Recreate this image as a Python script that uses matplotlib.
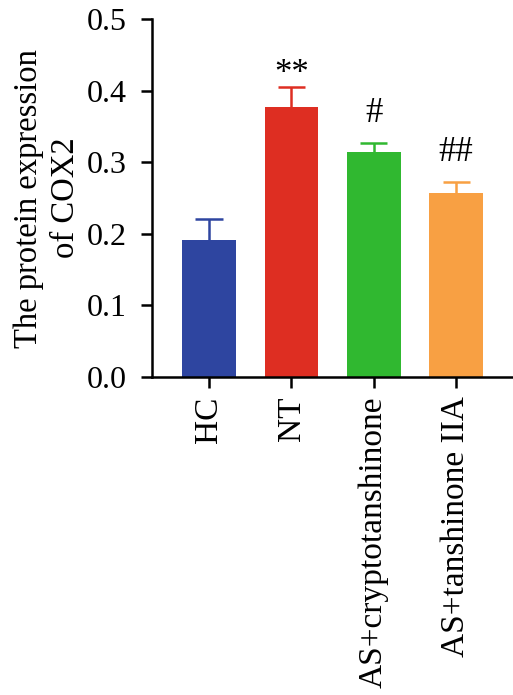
import matplotlib
matplotlib.use("Agg")
import matplotlib.pyplot as plt

categories = ["HC", "NT", "AS+cryptotanshinone", "AS+tanshinone IIA"]
values = [0.1915, 0.377, 0.3145, 0.2577]
errors = [0.0295, 0.028, 0.0125, 0.0153]
marks = ["", "**", "#", "##"]
colors = ["#2E45A0", "#DE2E22", "#30B830", "#F8A043"]

plt.rcParams['font.family'] = ['Liberation Serif', 'DejaVu Serif']

fig = plt.figure(figsize=(5.13, 6.95), dpi=100)
ax = fig.add_axes([0.2957, 0.4576, 0.7043, 0.5146])
x = list(range(len(categories)))
ax.bar(x, values, width=0.65, color=colors, zorder=2)
cap = 0.165
for i in x:
    top = values[i] + errors[i]
    ax.vlines(i, values[i], top, colors=colors[i], linewidth=1.8, zorder=1)
    ax.hlines(top, i - cap, i + cap, colors=colors[i], linewidth=1.8, zorder=1)
    if marks[i]:
        off = -0.005 if marks[i].startswith('*') else 0.018
        ax.text(i, top + off, marks[i], ha='center', va='bottom', fontsize=25)
ax.set_xlim(-0.695, 3.69)
ax.set_ylim(0, 0.5)
ax.set_yticks([0, 0.1, 0.2, 0.3, 0.4, 0.5])
ax.set_yticklabels(["0.0", "0.1", "0.2", "0.3", "0.4", "0.5"])
ax.set_xticks(x)
ax.set_xticklabels(categories, rotation=90)
ax.tick_params(axis='both', width=1.8, length=8, direction='out')
ax.tick_params(axis='y', labelsize=23, pad=10)
ax.tick_params(axis='x', labelsize=24, pad=6)
ax.spines['top'].set_visible(False)
ax.spines['right'].set_visible(False)
ax.spines['left'].set_linewidth(1.8)
ax.spines['bottom'].set_linewidth(1.8)
ax.set_ylabel("The protein expression\nof COX2", fontsize=23.5, linespacing=1.3, labelpad=4)
fig.savefig("out.png", dpi=100)
